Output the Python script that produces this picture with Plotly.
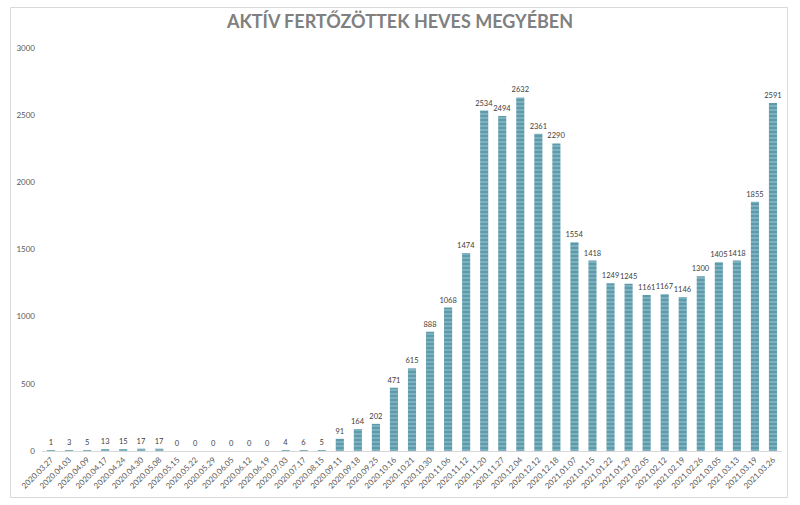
import plotly.graph_objects as go

dates = ["2020.03.27", "2020.04.03", "2020.04.09", "2020.04.17", "2020.04.24", "2020.04.30",
         "2020.05.08", "2020.05.15", "2020.05.22", "2020.05.29", "2020.06.05", "2020.06.12",
         "2020.06.19", "2020.07.03", "2020.07.17", "2020.08.15", "2020.09.11", "2020.09.18",
         "2020.09.25", "2020.10.16", "2020.10.21", "2020.10.30", "2020.11.06", "2020.11.12",
         "2020.11.20", "2020.11.27", "2020.12.04", "2020.12.12", "2020.12.18", "2021.01.07",
         "2021.01.15", "2021.01.22", "2021.01.29", "2021.02.05", "2021.02.12", "2021.02.19",
         "2021.02.26", "2021.03.05", "2021.03.13", "2021.03.19", "2021.03.26"]
active = [1, 3, 5, 13, 15, 17, 17, 0, 0, 0, 0, 0, 0, 4, 6, 5, 91, 164, 202, 471, 615, 888,
          1068, 1474, 2534, 2494, 2632, 2361, 2290, 1554, 1418, 1249, 1245, 1161, 1167, 1146,
          1300, 1405, 1418, 1855, 2591]
title_text = "AKTÍV FERTŐZÖTTEK HEVES MEGYÉBEN"
y_ticks = [0, 500, 1000, 1500, 2000, 2500, 3000]

W, H = 800, 505
L, R, T, B = 42, 18, 48, 54
pw, ph = W - L - R, H - T - B

def px_to_paper_x(x):
    return (x - L) / pw

def px_to_paper_y(y):
    return (H - B - y) / ph

label_font = dict(family="Lato", size=7.5, color="#404040")

fig = go.Figure()
fig.add_trace(go.Bar(
    x=dates, y=active,
    marker=dict(
        color="#5b9bab",
        line=dict(width=0),
        pattern=dict(shape="-", size=4, solidity=0.45, fgcolor="#a8cbd4", bgcolor="#5b9bab"),
    ),
    text=[str(v) for v in active],
    textposition="outside",
    textfont=label_font,
    outsidetextfont=label_font,
    cliponaxis=False,
))

fig.update_layout(
    width=W, height=H,
    margin=dict(l=L, r=R, t=T, b=B, autoexpand=False),
    paper_bgcolor="white", plot_bgcolor="white",
    font=dict(family="Lato", color="#595959"),
    bargap=0.55,
    showlegend=False,
    uniformtext=dict(minsize=7.5, mode="show"),
    title=dict(text="<b>" + title_text + "</b>", x=0.5, xanchor="center",
               y=1 - 22 / H, yanchor="middle", yref="container",
               font=dict(family="Lato", size=18, color="#808080")),
    xaxis=dict(
        type="category", tickangle=-45, tickfont=dict(size=8, color="#595959"),
        showline=True, linecolor="#d9d9d9", linewidth=1, ticks="",
        showgrid=False, automargin=False,
    ),
    yaxis=dict(
        range=[0, 3000], tickvals=y_ticks, tickfont=dict(size=8, color="#595959"),
        showgrid=False, zeroline=False, showline=False, ticks="", automargin=False,
        ticklabelstandoff=6,
    ),
    shapes=[dict(
        type="rect", xref="paper", yref="paper",
        x0=px_to_paper_x(10.5), x1=px_to_paper_x(787.5),
        y0=px_to_paper_y(497.5), y1=px_to_paper_y(7.5),
        line=dict(color="#d9d9d9", width=1), fillcolor="rgba(0,0,0,0)", layer="below",
    )],
)

fig.write_html("out.html")
